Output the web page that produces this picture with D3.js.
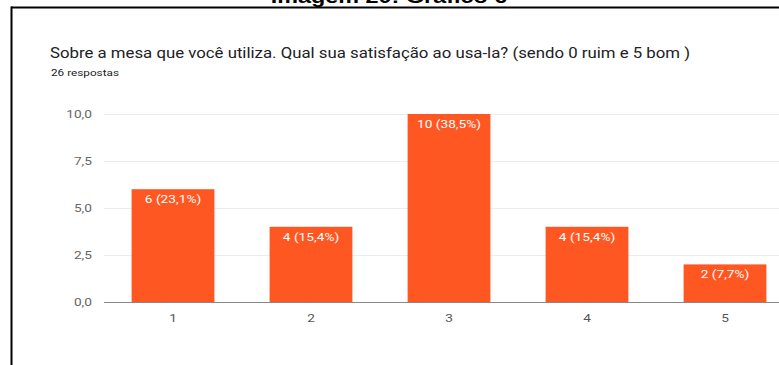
<!DOCTYPE html>
<html><head><meta charset="utf-8">
<script src="https://cdn.jsdelivr.net/npm/d3@7"></script>
<style>html,body{margin:0;padding:0;background:#fff;overflow:hidden}</style>
</head><body>
<svg id="c" width="779" height="365"></svg>
<script>
const categories = ["1", "2", "3", "4", "5"];
const counts = [6, 4, 10, 4, 2];
const barLabels = ["6 (23,1%)", "4 (15,4%)", "10 (38,5%)", "4 (15,4%)", "2 (7,7%)"];
const yTicks = [0, 2.5, 5, 7.5, 10];
const yTickLabels = ["0,0", "2,5", "5,0", "7,5", "10,0"];
const caption = "Imagem 20: Gráfico 6";
const title = "Sobre a mesa que você utiliza. Qual sua satisfação ao usa-la? (sendo 0 ruim e 5 bom )";
const subtitle = "26 respostas";

const svg = d3.select("#c");
const font = "Roboto, 'Liberation Sans', Arial, sans-serif";
const sx = 1.37; // the source picture is stretched horizontally

// caption (cut at top, as in the source)
svg.append("text").attr("transform", "translate(389,3) scale(1.3,1)").attr("text-anchor", "middle")
  .attr("font-family", "'Liberation Sans', Arial, sans-serif").attr("font-weight", "bold")
  .attr("font-size", 18).attr("fill", "#000").text(caption);

// frame
svg.append("line").attr("x1", 11).attr("x2", 779).attr("y1", 7.5).attr("y2", 7.5)
  .attr("stroke", "#000").attr("stroke-width", 2);
svg.append("line").attr("x1", 11.5).attr("x2", 11.5).attr("y1", 6.5).attr("y2", 365)
  .attr("stroke", "#000").attr("stroke-width", 2);

svg.append("text").attr("x", 50).attr("y", 58).attr("font-family", font)
  .attr("font-size", 14).attr("fill", "#202124")
  .attr("textLength", 640).attr("lengthAdjust", "spacingAndGlyphs").text(title);
svg.append("text").attr("x", 51).attr("y", 76).attr("font-family", font)
  .attr("font-size", 9).attr("fill", "#202124")
  .attr("textLength", 68).attr("lengthAdjust", "spacingAndGlyphs").text(subtitle);

const x = d3.scaleBand().domain(categories).range([104, 794]).paddingInner(0.4).paddingOuter(0.2);
const y = d3.scaleLinear().domain([0, 10]).range([302, 114]);

// gridlines
svg.append("g").selectAll("line").data(yTicks.filter(d => d > 0)).join("line")
  .attr("x1", 104).attr("x2", 779).attr("y1", d => y(d) + 0.5).attr("y2", d => y(d) + 0.5)
  .attr("stroke", "#ececec").attr("stroke-width", 1);

// y axis labels
const yAxis = d3.axisLeft(y).tickValues(yTicks).tickSize(0).tickPadding(0)
  .tickFormat((d, i) => yTickLabels[i]);
const gy = svg.append("g").attr("transform", "translate(92,0)").call(yAxis);
gy.select(".domain").remove();
gy.selectAll("text").attr("x", null).attr("transform", `scale(${sx},1)`)
  .attr("font-family", font).attr("font-size", 10).attr("fill", "#666");

// bars
svg.append("g").selectAll("rect").data(counts).join("rect")
  .attr("x", (d, i) => x(categories[i])).attr("width", x.bandwidth())
  .attr("y", d => y(d)).attr("height", d => y(0) - y(d))
  .attr("fill", "#ff5722");

svg.append("g").selectAll("text").data(counts).join("text")
  .attr("transform", (d, i) => `translate(${x(categories[i]) + x.bandwidth() / 2},${y(d) + 14}) scale(${sx},1)`)
  .attr("text-anchor", "middle")
  .attr("font-family", font).attr("font-size", 10).attr("fill", "#fff")
  .text((d, i) => barLabels[i]);

// baseline
svg.append("line").attr("x1", 104).attr("x2", 779).attr("y1", y(0) + 0.5).attr("y2", y(0) + 0.5)
  .attr("stroke", "#888").attr("stroke-width", 1.2);

// x axis labels
const xAxis = d3.axisBottom(x).tickSize(0).tickPadding(0);
const gx = svg.append("g").attr("transform", `translate(0,${y(0) + 13})`).call(xAxis);
gx.select(".domain").remove();
gx.selectAll("text").attr("y", null).attr("transform", `scale(${sx},1)`)
  .attr("font-family", font).attr("font-size", 10).attr("fill", "#555");
</script>
</body></html>
